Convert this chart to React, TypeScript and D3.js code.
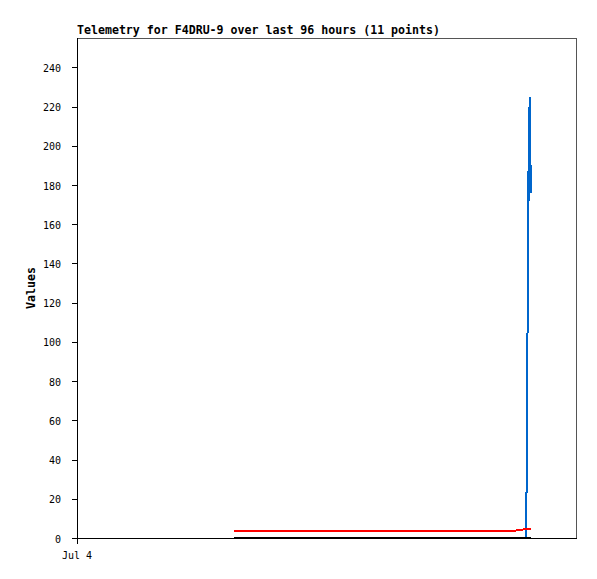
import { useEffect } from 'react';
import * as d3 from 'd3';

const title = 'Telemetry for F4DRU-9 over last 96 hours (11 points)';
const yLabel = 'Values';
const startTime = new Date(2023, 6, 4, 0, 0);
const endTime = new Date(2023, 6, 8, 0, 0);

const times = [
  '2023-07-05T06:08', '2023-07-07T11:54', '2023-07-07T13:26', '2023-07-07T14:13',
  '2023-07-07T14:22', '2023-07-07T14:31', '2023-07-07T14:39', '2023-07-07T14:44',
  '2023-07-07T14:54', '2023-07-07T15:02', '2023-07-07T15:08',
];
const blueValues = [0, 0, 0, 0, 38, 112, 187, 172, 225, 200, 176];
const redValues = [3.7, 3.7, 4.2, 4.7, 4.7, 4.7, 4.7, 4.7, 4.7, 4.7, 4.7];
const blackValues = [0, 0, 0, 0, 0, 0, 0, 0, 0, 0, 0];
const yTicks = [0, 20, 40, 60, 80, 100, 120, 140, 160, 180, 200, 220, 240];
const xTicks = [{ date: new Date(2023, 6, 4), label: 'Jul 4' }];

const series = [
  { name: 'blue', color: '#0066cc', values: blueValues },
  { name: 'red', color: '#ff0000', values: redValues },
  { name: 'black', color: '#000000', values: blackValues },
];

const width = 597;
const height = 579;
const margin = { top: 38, right: 20, bottom: 41, left: 77 };
const font = '"DejaVu Sans Mono", monospace';

const App = () => {
  useEffect(() => {
    document.body.style.margin = '0';
  }, []);

  const x = d3.scaleTime()
    .domain([startTime, endTime])
    .range([margin.left, width - margin.right]);
  const y = d3.scaleLinear()
    .domain([0, 255])
    .range([height - margin.bottom, margin.top]);

  const dates = times.map(t => new Date(t));
  const line = d3.line<[Date, number]>()
    .x(d => x(d[0]))
    .y(d => y(d[1]));

  const x0 = margin.left;
  const x1 = width - margin.right;
  const y0 = height - margin.bottom;
  const y1 = margin.top;

  return (
    <svg width={width} height={height} style={{ display: 'block', background: '#fff' }}>
      <text x={x0} y={y1 - 4} fontFamily={font} fontSize={11.6} fontWeight="bold">{title}</text>

      {/* frame */}
      <line x1={x0} y1={y1 + 0.5} x2={x1} y2={y1 + 0.5} stroke="#555" shapeRendering="crispEdges" />
      <line x1={x1 - 0.5} y1={y1} x2={x1 - 0.5} y2={y0} stroke="#555" shapeRendering="crispEdges" />

      {series.map(s => (
        <path
          key={s.name}
          d={line(dates.map((d, i) => [d, s.values[i]] as [Date, number])) ?? ''}
          fill="none"
          stroke={s.color}
          strokeWidth={2}
          shapeRendering="crispEdges"
        />
      ))}

      <line x1={x0} y1={y0 + 0.5} x2={x1} y2={y0 + 0.5} stroke="#000" shapeRendering="crispEdges" />
      <line x1={x0 + 0.5} y1={y1} x2={x0 + 0.5} y2={y0 + 6} stroke="#000" shapeRendering="crispEdges" />

      {yTicks.map(t => (
        <g key={t}>
          <line x1={x0 - 5} y1={Math.round(y(t)) + 0.5} x2={x0} y2={Math.round(y(t)) + 0.5} stroke="#000" shapeRendering="crispEdges" />
          <text x={x0 - 16} y={y(t) + 1} dy="0.35em" textAnchor="end" fontFamily={font} fontSize={10}>{t}</text>
        </g>
      ))}

      {xTicks.map(t => (
        <text key={t.label} x={x(t.date)} y={y0 + 21} textAnchor="middle" fontFamily={font} fontSize={10}>{t.label}</text>
      ))}

      <text
        transform={`translate(35,${(y0 + y1) / 2}) rotate(-90)`}
        textAnchor="middle"
        fontFamily={font}
        fontSize={11.6}
        fontWeight="bold"
      >{yLabel}</text>
    </svg>
  );
};

export default App;
